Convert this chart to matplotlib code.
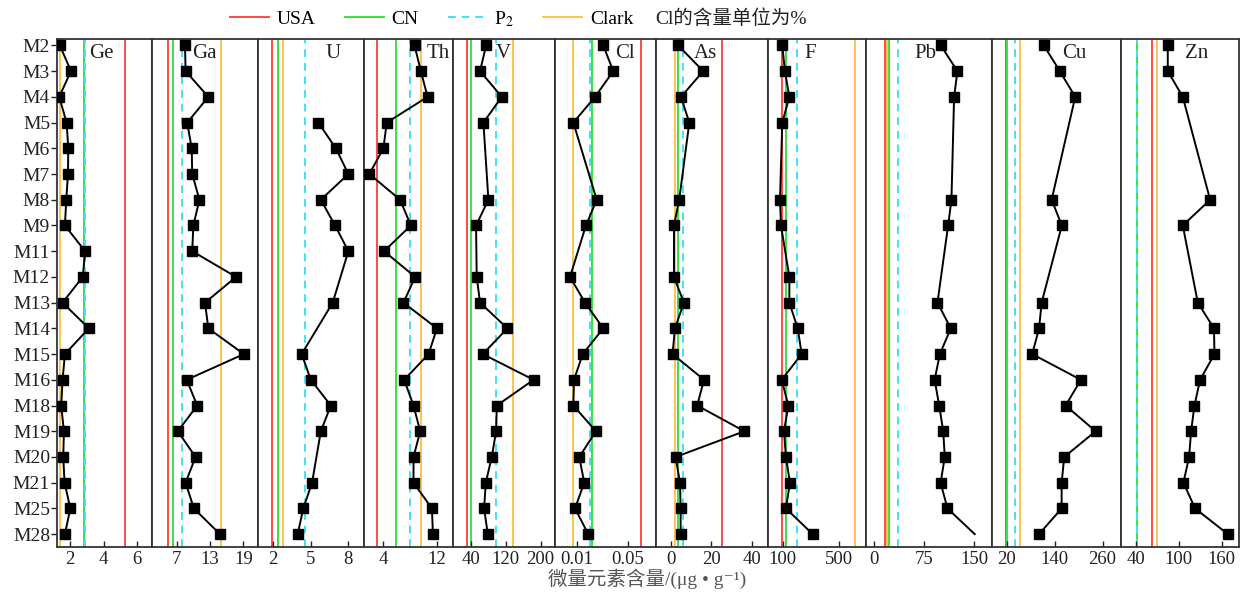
import numpy as np
import matplotlib
matplotlib.use('Agg')
import matplotlib.pyplot as plt
from matplotlib.lines import Line2D

plt.rcParams['font.family'] = ['Liberation Serif', 'Noto Sans CJK SC', 'DejaVu Sans']
plt.rcParams['mathtext.fontset'] = 'stix'

samples = ['M2', 'M3', 'M4', 'M5', 'M6', 'M7', 'M8', 'M9', 'M11', 'M12',
           'M13', 'M14', 'M15', 'M16', 'M18', 'M19', 'M20', 'M21', 'M25', 'M28']
N = None

# measured contents (Cl in %), None = not analysed
Ge = [1.4, 2.06, 1.36, 1.8, 1.9, 1.88, 1.78, 1.7, 2.9, 2.76,
      1.56, 3.12, 1.7, 1.56, 1.48, 1.64, 1.6, 1.68, 2.02, 1.7]
Ga = [8.5, 8.6, 12.7, 8.9, 9.7, 9.8, 11.1, 10.0, 9.8, 17.7,
      12.1, 12.7, 19.1, 8.8, 10.7, 7.2, 10.4, 8.6, 10.1, 14.8]
U = [N, N, N, 5.6, 7.0, 8.0, 5.8, 6.94, 8.0, N,
     6.75, N, 4.27, 5.0, 6.6, 5.8, N, 5.1, 4.4, 3.95]
Th = [8.65, 9.6, 10.6, 4.5, 4.0, 1.9, 6.5, 8.1, 4.1, 8.75,
      7.0, 12.0, 10.75, 7.1, 8.5, 9.5, 8.5, 8.5, 11.25, 11.4]
V = [74.6, 60.7, 110.7, 68.4, N, N, 79.9, 51.5, N, 53,
     60.7, 123.5, 67, 183.8, 99.2, 97.6, 87.6, 73.9, 70, 78.5]
Cl = [0.0307, 0.0385, 0.0243, 0.0074, N, N, 0.0256, 0.0172, N, 0.0048,
      0.0165, 0.0307, 0.0147, 0.0079, 0.0074, 0.025, 0.012, 0.0159, 0.0087, 0.019]
As = [3.6, 16.0, 5.0, 9.1, N, N, 4.1, 1.5, N, 1.5,
      6.4, 2.0, 0.8, 16.4, 13.0, 36.4, 2.3, 4.5, 4.8, 4.8]
F = [97, 116, 147, 97, N, N, 81, 88, N, 147,
     147, 206, 234, 93, 140, 109, 123, 151, 123, 312]
Pb = [100, 125, 120, N, N, N, 116, 111, N, N,
      95, 115, 98.6, 90.7, 97.6, 103.6, 106, 99.7, 110, 151]
Cu = [113, 153, 191.5, N, N, N, 132.5, 158, N, N,
      107.5, 101, 84, 205.7, 167.5, 242.5, 164, 157.5, 157.5, 101]
Zn = [84.4, 84.4, 105.4, N, N, N, 143.6, 105.4, N, N,
      126.4, 149, 149.7, 129.6, 121.7, 117, 114.2, 106.3, 122.6, 168.4]

elements = ['Ge', 'Ga', 'U', 'Th', 'V', 'Cl', 'As', 'F', 'Pb', 'Cu', 'Zn']
values = [Ge, Ga, U, Th, V, Cl, As, F, Pb, Cu, Zn]

# background values
usa = [5.27, 5.4, 1.87, 3.0, 30, 0.0601, 25.1, 93, 16, 17.5, 62]
cn = [2.85, 6.4, 2.4, 5.86, 39, 0.0222, 3.6, 123, 22, 20, 41]
p2 = [2.87, 8.0, 4.5, 7.9, 96.5, 0.0204, 6.1, 203, 35, 40.7, 41.5]
clark = [1.4, 14.9, 2.8, 9.65, 136, 0.0069, 2.0, 609, 19, 53, 70]

ticks = [[2, 4, 6], [7, 13, 19], [2, 5, 8], [4, 12], [40, 120, 200],
         [0.01, 0.05], [0, 20, 40], [100, 500], [0, 75, 150],
         [20, 140, 260], [40, 100, 160]]
xlims = [(1.23, 6.87), (2.55, 21.65), (0.78, 9.25), (1.1, 14.4), (-1.5, 233),
         (-0.0069, 0.0718), (-7.4, 48.1), (-3.7, 688), (-12.5, 177),
         (-16.7, 306), (19, 184)]
widths = [95, 106, 106, 89, 102, 101, 112, 98, 126, 129, 118]
label_x = [0.47, 0.49, 0.71, 0.83, 0.49, 0.69, 0.44, 0.43, 0.47, 0.64, 0.64]
no_marker = {'Pb': ['M28']}

C_USA = '#ff4a4a'
C_CN = '#3ee03e'
C_P2 = '#3fe3f2'
C_CLARK = '#ffc24f'
SPINE = '#333333'

fig, axes = plt.subplots(1, len(elements), figsize=(12.43, 5.97), dpi=100,
                         sharey=True, gridspec_kw={'width_ratios': widths})
fig.subplots_adjust(left=57 / 1243, right=1239 / 1243, top=1 - 39 / 597,
                    bottom=1 - 547 / 597, wspace=0)

y = np.arange(len(samples))

for i, ax in enumerate(axes):
    el = elements[i]
    ax.axvline(usa[i], color=C_USA, lw=1.4, zorder=1)
    ax.axvline(clark[i], color=C_CLARK, lw=1.4, zorder=1)
    ax.axvline(cn[i], color=C_CN, lw=1.4, zorder=1)
    ax.axvline(p2[i], color=C_P2, lw=1.4, ls=(0, (4, 3)), zorder=1)

    v = np.array([np.nan if a is None else a for a in values[i]], dtype=float)
    ok = ~np.isnan(v)
    ax.plot(v[ok], y[ok], color='black', lw=1.4, zorder=3)
    mk = ok & ~np.isin(samples, no_marker.get(el, []))
    ax.plot(v[mk], y[mk], ls='none', marker='s', ms=6.5, color='black', zorder=4)

    ax.set_xlim(*xlims[i])
    ax.set_xticks(ticks[i])
    ax.set_xticklabels([('%g' % t) for t in ticks[i]])
    ax.tick_params(axis='x', direction='in', length=4, width=1, labelsize=13.5,
                   pad=3, colors='#222222')
    for s in ax.spines.values():
        s.set_color(SPINE)
        s.set_linewidth(1.3)
    ax.text(label_x[i], 1 - 15 / 508, el, transform=ax.transAxes, fontsize=15,
            ha='center', va='center', color='#222222', zorder=5)
    if i > 0:
        ax.tick_params(axis='y', left=False, labelleft=False)

axes[0].set_ylim(len(samples) - 0.5, -0.25)
axes[0].set_yticks(y)
axes[0].set_yticklabels(samples)
axes[0].tick_params(axis='y', direction='out', length=4, width=1,
                    labelsize=14, pad=1, colors='#222222')

handles = [Line2D([], [], color=C_USA, lw=1.4),
           Line2D([], [], color=C_CN, lw=1.4),
           Line2D([], [], color=C_P2, lw=1.4, ls=(0, (4, 3))),
           Line2D([], [], color=C_CLARK, lw=1.4)]
fig.legend(handles, ['USA', 'CN', 'P$_2$', 'Clark'], ncol=4, frameon=False,
           loc='center left', bbox_to_anchor=(230 / 1243, 1 - 19 / 597),
           fontsize=14, handlelength=2.0, handletextpad=0.4,
           columnspacing=1.5, borderaxespad=0, borderpad=0)
fig.text(655 / 1243, 1 - 19 / 597, 'Cl的含量单位为%', fontsize=14,
         ha='left', va='center', color='#222222')

fig.text(647 / 1243, 1 - 579 / 597, '微量元素含量/(μg • g⁻¹)', fontsize=14,
         ha='center', va='center', color='#555555')

fig.savefig('out.png', dpi=100)
